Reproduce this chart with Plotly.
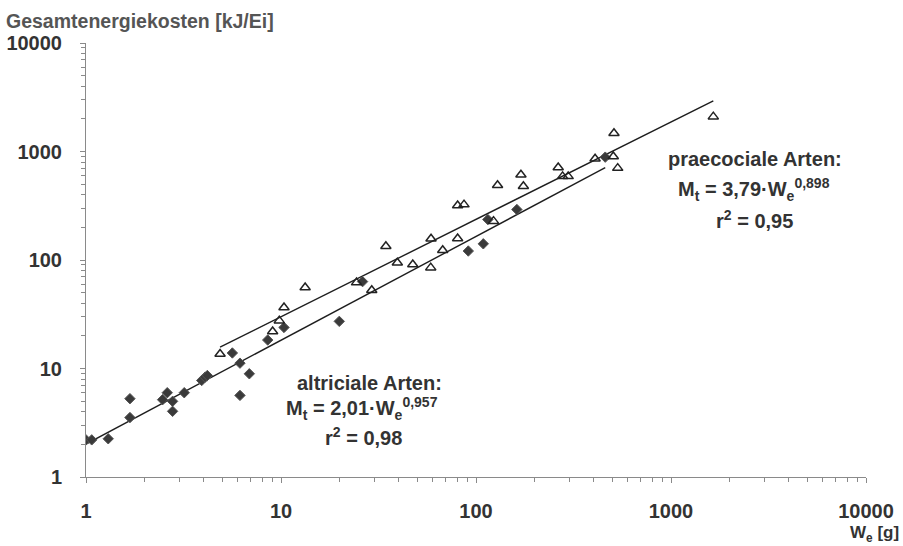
import numpy as np
import plotly.graph_objects as go

# ---- data ----
altricial_w = [1.0, 1.07, 1.30, 1.68, 1.68, 2.47, 2.61, 2.78, 2.78, 3.19, 3.92, 4.08, 4.19,
               5.63, 6.16, 6.16, 6.88, 8.55, 10.36, 19.9, 26.2, 91.3, 109, 115, 162, 460]
altricial_m = [2.2, 2.2, 2.25, 5.27, 3.53, 5.16, 5.98, 4.98, 4.03, 5.98, 7.76, 8.32, 8.62,
               13.9, 11.2, 5.65, 8.94, 18.3, 23.9, 27.2, 63.2, 121, 141, 236, 292, 887]

praecocial_w = [4.87, 9.06, 9.80, 10.36, 13.3, 24.4, 29.2, 34.5, 39.5, 47.4, 58.6, 58.8, 67.5,
                80.5, 80.5, 86.8, 123, 129, 170, 175, 264, 278, 297, 408, 506, 510, 533, 1648]
praecocial_m = [13.6, 21.9, 27.6, 36.5, 55.7, 61.9, 52.7, 134, 94.5, 91, 85, 157, 123,
                158, 318, 324, 228, 488, 611, 478, 713, 590, 590, 857, 900, 1472, 703, 2095]

# regression coefficients shown in the chart: M_t = a * W_e^b
altricial_fit = [2.01, 0.957]
praecocial_fit = [3.79, 0.898]

tick_vals = [1, 10, 100, 1000, 10000]
tick_text = ["1", "10", "100", "1000", "10000"]

FONT = "Liberation Sans, Arial, sans-serif"
TXT = "#333333"


def fit_line(ws, coef):
    x = np.logspace(np.log10(min(ws)), np.log10(max(ws)), 60)
    return x, coef[0] * x ** coef[1]


fig = go.Figure()

ax, ay = fit_line(altricial_w, altricial_fit)
px_, py_ = fit_line(praecocial_w, praecocial_fit)
fig.add_trace(go.Scatter(x=ax, y=ay, mode="lines", line=dict(color="#1e1e1e", width=1.4),
                         showlegend=False, hoverinfo="skip"))
fig.add_trace(go.Scatter(x=px_, y=py_, mode="lines", line=dict(color="#1e1e1e", width=1.4),
                         showlegend=False, hoverinfo="skip"))

fig.add_trace(go.Scatter(x=altricial_w, y=altricial_m, mode="markers", name="altricial",
                         marker=dict(symbol="diamond", size=8, color="#3a3a3a",
                                     line=dict(color="#555555", width=1)),
                         showlegend=False))
fig.add_trace(go.Scatter(x=praecocial_w, y=praecocial_m, mode="markers", name="praecocial",
                         marker=dict(symbol="triangle-up-open", size=9, color="#222222",
                                     line=dict(width=1.5)),
                         showlegend=False))

axis_common = dict(
    type="log", range=[0, 4], tickvals=tick_vals, ticktext=tick_text,
    showgrid=False, zeroline=False, showline=True, linecolor="#8a8a8a", linewidth=1,
    ticks="outside", ticklen=5, tickcolor="#8a8a8a", tickwidth=1,
    minor=dict(ticks="outside", ticklen=4, tickcolor="#8a8a8a", dtick="D1", showgrid=False),
    tickfont=dict(family=FONT, size=20, color=TXT, weight="bold"),
    automargin=False,
)

fig.update_xaxes(**axis_common, ticklabelstandoff=11)
fig.update_yaxes(**axis_common, ticklabelstandoff=14)


def px2paper(xp, yp):
    return (xp - 86) / 780.0, (477 - yp) / 436.0


# (text, x px, y px, xanchor, yanchor, size, colour)
annots = [
    ("Gesamtenergiekosten [kJ/Ei]", 5, 19, "left", "middle", 19.5, "#555555"),
    ("W<sub>e</sub> [g]", 900, 546, "right", "bottom", 17, TXT),
    ("altriciale Arten:", 369, 383, "center", "middle", 20, TXT),
    ("M<sub>t</sub> = 2,01·W<sub>e</sub><sup>0,957</sup>", 362, 408, "center", "middle", 20, TXT),
    ("r<sup>2</sup> = 0,98", 363, 436, "center", "middle", 20, TXT),
    ("praecociale Arten:", 755, 158, "center", "middle", 20, TXT),
    ("M<sub>t</sub> = 3,79·W<sub>e</sub><sup>0,898</sup>", 754, 188, "center", "middle", 20, TXT),
    ("r<sup>2</sup> = 0,95", 754, 218, "center", "middle", 20, TXT),
]
for text, xp, yp, xanc, yanc, size, col in annots:
    x, y = px2paper(xp, yp)
    fig.add_annotation(text=text, xref="paper", yref="paper", x=x, y=y,
                       xanchor=xanc, yanchor=yanc, showarrow=False, borderpad=0,
                       font=dict(family=FONT, size=size, color=col, weight="bold"))

fig.update_layout(
    width=903, height=546,
    margin=dict(l=86, r=37, t=43, b=69, autoexpand=False),
    paper_bgcolor="white", plot_bgcolor="white",
    showlegend=False,
)

fig.write_html("out.html", config={"displayModeBar": False},
               post_script="document.body.style.margin='0';document.body.style.overflow='hidden';")
